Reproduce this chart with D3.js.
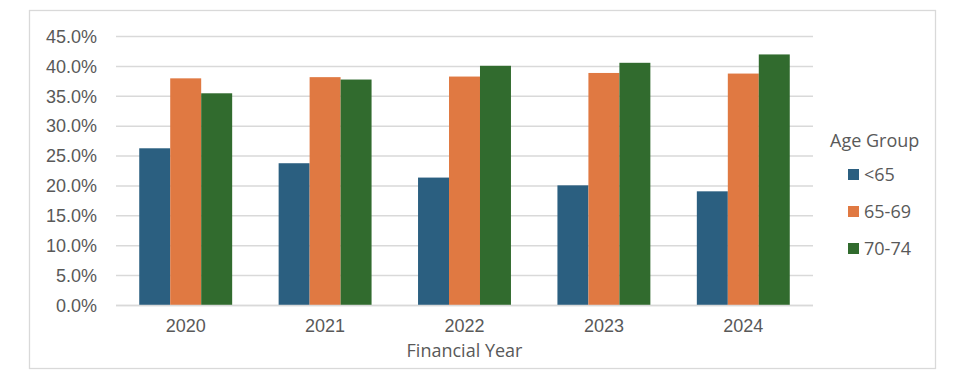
<!DOCTYPE html>
<html><head><meta charset="utf-8">
<script src="https://cdn.jsdelivr.net/npm/d3@7"></script>
<style>
html,body{margin:0;padding:0;background:#fff;}
svg{display:block;}
text{font-family:"Open Sans","Liberation Sans",sans-serif;fill:#595959;}
</style></head>
<body><svg id="c" width="960" height="377"></svg>
<script>
const years = ["2020","2021","2022","2023","2024"];
const groups = ["<65","65-69","70-74"];
const under65 = [26.3, 23.8, 21.4, 20.1, 19.1];
const age65_69 = [38.0, 38.2, 38.3, 38.9, 38.8];
const age70_74 = [35.5, 37.8, 40.1, 40.6, 42.0];
const colors = ["#2B5F80","#E07942","#316B2E"];
const yTicks = [0,5,10,15,20,25,30,35,40,45];
const xTitle = "Financial Year";
const legendTitle = "Age Group";

(function(){
const series = [under65, age65_69, age70_74];
const svg = d3.select("#c");
const fs = 18;

svg.append("rect").attr("x",29.5).attr("y",10.5).attr("width",906).attr("height",358)
  .attr("fill","#fff").attr("stroke","#D9D9D9").attr("stroke-width",1.3);

const pL=116, pR=813, pT=36.5, pB=305.5;
const x = d3.scaleBand().domain(years).range([pL,pR]).paddingInner(1/3).paddingOuter(1/6);
const xs = d3.scaleBand().domain(groups).range([0,x.bandwidth()]);
const y = d3.scaleLinear().domain([0,45]).range([pB,pT]);

svg.append("g").selectAll("line").data(yTicks).join("line")
  .attr("x1",pL).attr("x2",pR)
  .attr("y1",d=>y(d)).attr("y2",d=>y(d))
  .attr("stroke","#D9D9D9").attr("stroke-width",1.5);

const yAxis = d3.axisLeft(y).tickValues(yTicks).tickFormat(d=>d.toFixed(1)+"%").tickSize(0).tickPadding(19);
const ya = svg.append("g").attr("transform",`translate(${pL},0)`).call(yAxis);
ya.select(".domain").remove();
ya.selectAll("text").attr("font-size",fs).style("font-family","inherit").attr("fill","#595959");

const g = svg.append("g");
years.forEach((yr,i)=>{
  groups.forEach((grp,j)=>{
    g.append("rect")
      .attr("x",x(yr)+xs(grp))
      .attr("y",y(series[j][i]))
      .attr("width",xs.bandwidth())
      .attr("height",y(0)-y(series[j][i]))
      .attr("fill",colors[j]);
  });
});

const xAxis = d3.axisBottom(x).tickSize(0).tickPadding(14);
const xa = svg.append("g").attr("transform",`translate(0,${pB})`).call(xAxis);
xa.select(".domain").attr("stroke","#D9D9D9").attr("stroke-width",1.5).attr("d",`M${pL},0H${pR}`);
xa.selectAll("text").attr("font-size",fs).style("font-family","inherit").attr("fill","#595959");

svg.append("text").attr("x",(pL+pR)/2).attr("y",357).attr("text-anchor","middle")
  .attr("font-size",fs).text(xTitle);

svg.append("text").attr("x",830).attr("y",147).attr("font-size",fs).text(legendTitle);
const lg = svg.append("g");
const ly = [174.5, 211.5, 248.5];
groups.forEach((grp,j)=>{
  lg.append("rect").attr("x",848).attr("y",ly[j]-5.5).attr("width",11).attr("height",11).attr("fill",colors[j]);
  lg.append("text").attr("x",864).attr("y",ly[j]).attr("dy","0.35em").attr("font-size",fs).text(grp);
});
})();
</script></body></html>
